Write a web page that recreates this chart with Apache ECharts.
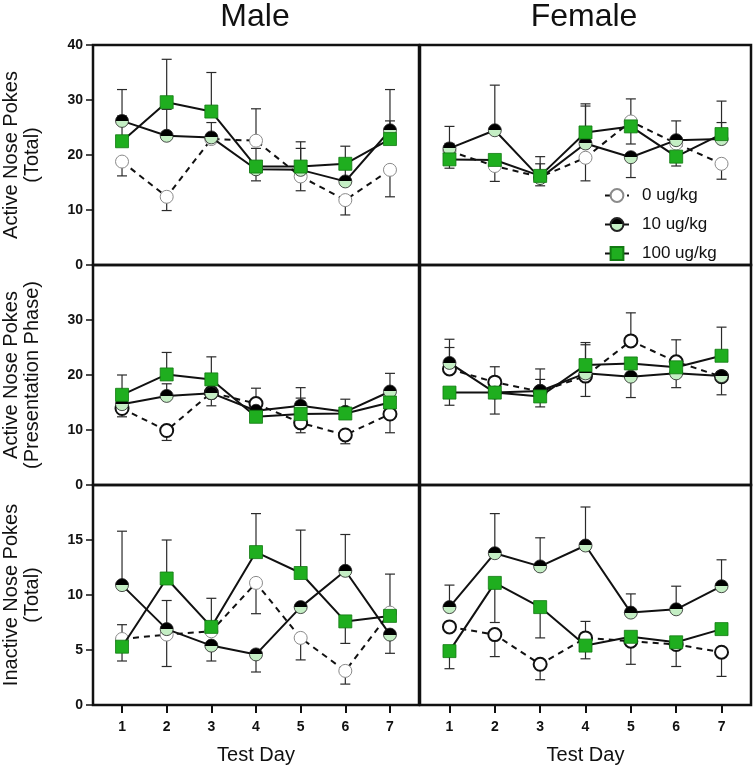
<!DOCTYPE html>
<html>
<head>
<meta charset="utf-8">
<script src="https://cdn.jsdelivr.net/npm/echarts@6/dist/echarts.min.js"></script>
<style>
  html, body { margin: 0; padding: 0; background: #fff; }
  #chart { width: 755px; height: 770px; }
</style>
</head>
<body>
<div id="chart"></div>
<script>
// ---------- DATA ----------
const days = [1, 2, 3, 4, 5, 6, 7];
const doses = ['0 ug/kg', '10 ug/kg', '100 ug/kg'];
const sexTitles = ['Male', 'Female'];
const rowTitles = ['Active Nose Pokes\n(Total)', 'Active Nose Pokes\n(Presentation Phase)', 'Inactive Nose Pokes\n(Total)'];
const xTitle = 'Test Day';
const rowMax = [40, 40, 20];
const rowStep = [10, 10, 5];

// Male – Active Nose Pokes (Total)
const maleTotal0 = [18.8, 12.4, 22.9, 22.6, 16.1, 11.8, 17.3];
const maleTotal0Cap = [16.2, 9.9, null, 28.4, 13.5, 9.1, 12.4];
const maleTotal10 = [26.2, 23.5, 23.2, 17.4, 17.3, 15.2, 24.5];
const maleTotal10Cap = [31.9, 28.3, 25.9, 15.3, 21.2, 17.7, 31.9];
const maleTotal100 = [22.5, 29.6, 27.9, 17.9, 17.9, 18.4, 22.9];
const maleTotal100Cap = [27.1, 37.4, 35.0, 21.2, 22.4, 21.6, 26.2];

// Female – Active Nose Pokes (Total)
const femaleTotal0 = [20.7, 18.0, 16.0, 19.5, 26.1, 22.1, 18.4];
const femaleTotal0Cap = [22.1, 15.2, 18.4, 15.3, 22.0, null, 15.6];
const femaleTotal10 = [21.2, 24.5, 15.8, 22.1, 19.6, 22.7, 22.9];
const femaleTotal10Cap = [25.2, 32.7, 14.4, 28.9, 15.9, 26.2, 25.9];
const femaleTotal100 = [19.2, 19.1, 16.2, 24.1, 25.2, 19.7, 23.8];
const femaleTotal100Cap = [17.6, null, 19.7, 29.3, 30.2, 18.0, 29.8];

// Male – Active Nose Pokes (Presentation Phase)
const malePres0 = [13.9, 9.9, 16.8, 14.8, 11.3, 9.1, 12.9];
const malePres0Cap = [12.4, 8.1, 14.4, 17.6, 9.5, 7.5, 9.5];
const malePres10 = [14.7, 16.2, 16.7, 13.5, 14.4, 13.3, 17.0];
const malePres10Cap = [null, 18.4, null, null, 17.7, 15.6, 20.3];
const malePres100 = [16.4, 20.1, 19.2, 12.4, 12.9, 13.0, 15.0];
const malePres100Cap = [20.0, 24.1, 23.3, null, 15.8, null, null];

// Female – Active Nose Pokes (Presentation Phase)
const femalePres0 = [21.1, 18.7, 17.0, 19.8, 26.2, 22.4, 19.7];
const femalePres0Cap = [25.0, 21.5, 19.2, 16.1, 31.3, 26.4, 16.4];
const femalePres10 = [22.2, 16.8, 17.1, 20.3, 19.7, 20.3, 19.8];
const femalePres10Cap = [26.5, 12.9, 21.1, 25.5, 15.9, 17.7, null];
const femalePres100 = [16.8, 16.8, 16.1, 21.8, 22.1, 21.4, 23.5];
const femalePres100Cap = [14.5, null, 14.2, 25.9, null, null, 28.7];

// Male – Inactive Nose Pokes (Total)
const maleInact0 = [6.0, 6.4, 6.7, 11.1, 6.1, 3.1, 8.4];
const maleInact0Cap = [7.3, 3.5, null, 8.3, 4.1, 1.9, null];
const maleInact10 = [10.9, 6.9, 5.4, 4.6, 8.9, 12.2, 6.4];
const maleInact10Cap = [15.8, 9.5, 4.0, 3.0, null, 15.5, 4.7];
const maleInact100 = [5.3, 11.5, 7.1, 13.9, 12.0, 7.6, 8.1];
const maleInact100Cap = [4.0, 15.0, 9.7, 17.4, 15.9, 5.6, 11.9];

// Female – Inactive Nose Pokes (Total)
const femaleInact0 = [7.1, 6.4, 3.7, 6.1, 5.8, 5.5, 4.8];
const femaleInact0Cap = [null, 4.4, 2.3, 7.6, 3.7, 3.5, 2.6];
const femaleInact10 = [8.9, 13.8, 12.6, 14.5, 8.4, 8.7, 10.8];
const femaleInact10Cap = [10.9, 17.4, 15.2, 18.0, 10.1, 10.8, 13.2];
const femaleInact100 = [4.9, 11.1, 8.9, 5.4, 6.2, 5.7, 6.9];
const femaleInact100Cap = [3.3, 7.5, 6.1, 4.2, null, null, null];

// ---------- BUILD ----------
const panels = [
  { row: 0, col: 0, m: [maleTotal0, maleTotal10, maleTotal100], c: [maleTotal0Cap, maleTotal10Cap, maleTotal100Cap], thinOpen: true },
  { row: 0, col: 1, m: [femaleTotal0, femaleTotal10, femaleTotal100], c: [femaleTotal0Cap, femaleTotal10Cap, femaleTotal100Cap], thinOpen: true },
  { row: 1, col: 0, m: [malePres0, malePres10, malePres100], c: [malePres0Cap, malePres10Cap, malePres100Cap], thinOpen: false },
  { row: 1, col: 1, m: [femalePres0, femalePres10, femalePres100], c: [femalePres0Cap, femalePres10Cap, femalePres100Cap], thinOpen: false },
  { row: 2, col: 0, m: [maleInact0, maleInact10, maleInact100], c: [maleInact0Cap, maleInact10Cap, maleInact100Cap], thinOpen: true },
  { row: 2, col: 1, m: [femaleInact0, femaleInact10, femaleInact100], c: [femaleInact0Cap, femaleInact10Cap, femaleInact100Cap], thinOpen: false }
];

const FONT = "'Liberation Sans', Arial, Helvetica, sans-serif";
const colLeft = [91, 420];
const colWidth = [328, 331];
const rowTop = [45, 265, 485];
const rowH = 220;

const halfFill = {
  type: 'linear', x: 0, y: 0, x2: 0, y2: 1,
  colorStops: [
    { offset: 0, color: '#000' }, { offset: 0.5, color: '#000' },
    { offset: 0.5, color: '#c4eec4' }, { offset: 1, color: '#c4eec4' }
  ]
};

const grids = [], xAxes = [], yAxes = [], series = [];

function errRender(params, api) {
  const x = api.value(0), m = api.value(1), c = api.value(2);
  const a = api.coord([x, m]);
  const b = api.coord([x, c]);
  const st = { stroke: '#2a2a2a', lineWidth: 1.2 };
  return {
    type: 'group',
    children: [
      { type: 'line', shape: { x1: a[0], y1: a[1], x2: b[0], y2: b[1] }, style: st },
      { type: 'line', shape: { x1: b[0] - 5, y1: b[1], x2: b[0] + 5, y2: b[1] }, style: st }
    ]
  };
}

panels.forEach((p, i) => {
  grids.push({
    left: colLeft[p.col], top: rowTop[p.row], width: colWidth[p.col], height: rowH,
    show: true, borderColor: '#111', borderWidth: 2.5, backgroundColor: 'transparent'
  });
  const isBottom = p.row === 2;
  const isLeft = p.col === 0;
  xAxes.push({
    gridIndex: i, type: 'value', min: 0.35, max: 7.65,
    splitLine: { show: false },
    axisLine: { show: false },
    axisTick: isBottom ? { show: true, customValues: days, length: 8, lineStyle: { color: '#111', width: 2 } } : { show: false },
    axisLabel: isBottom ? { show: true, customValues: days, fontSize: 14, fontWeight: 'bold', color: '#111', margin: 15, fontFamily: FONT } : { show: false },
    name: isBottom ? xTitle : '',
    nameLocation: 'middle', nameGap: 40,
    nameTextStyle: { fontSize: 20, color: '#111', fontFamily: FONT }
  });
  yAxes.push({
    gridIndex: i, type: 'value', min: 0, max: rowMax[p.row], interval: rowStep[p.row],
    splitLine: { show: false },
    axisLine: { show: false },
    axisTick: isLeft ? { show: true, length: 7, lineStyle: { color: '#111', width: 1.5 } } : { show: false },
    axisLabel: isLeft ? { show: true, fontSize: 14, fontWeight: 'bold', color: '#111', margin: 10, fontFamily: FONT, showMaxLabel: p.row === 0 } : { show: false },
    name: isLeft ? rowTitles[p.row] : '',
    nameLocation: 'middle', nameGap: 50,
    nameTextStyle: { fontSize: 20, color: '#111', fontFamily: FONT, lineHeight: 21 }
  });

  // error bars
  for (let d = 0; d < 3; d++) {
    const data = [];
    days.forEach((x, k) => { if (p.c[d][k] != null) data.push([x, p.m[d][k], p.c[d][k]]); });
    series.push({
      type: 'custom', xAxisIndex: i, yAxisIndex: i, renderItem: errRender,
      data: data, encode: { x: 0, y: [1, 2] }, z: 1, silent: true
    });
  }
  // lines + markers
  const styles = [
    {
      symbol: 'circle', symbolSize: 13,
      itemStyle: p.thinOpen ? { color: '#fff', borderColor: '#8a8a8a', borderWidth: 1 } : { color: '#fff', borderColor: '#111', borderWidth: 2 },
      lineStyle: { color: '#111', width: 2, type: [6, 5] }
    },
    {
      symbol: 'circle', symbolSize: 13,
      itemStyle: { color: halfFill, borderColor: '#222', borderWidth: 0.8 },
      lineStyle: { color: '#111', width: 2 }
    },
    {
      symbol: 'rect', symbolSize: 13,
      itemStyle: { color: '#1fae1f', borderColor: '#127a12', borderWidth: 0.8 },
      lineStyle: { color: '#111', width: 2 }
    }
  ];
  for (let d = 0; d < 3; d++) {
    series.push(Object.assign({
      type: 'line', name: doses[d], xAxisIndex: i, yAxisIndex: i,
      data: days.map((x, k) => [x, p.m[d][k]]),
      z: 2 + d, showSymbol: true, emphasis: { disabled: true }
    }, styles[d]));
  }
});

const option = {
  animation: false,
  backgroundColor: '#fff',
  grid: grids,
  xAxis: xAxes,
  yAxis: yAxes,
  series: series,
  legend: {
    data: doses, orient: 'vertical', left: 599, top: 182,
    itemWidth: 24, itemHeight: 16, itemGap: 12,
    textStyle: { fontSize: 17, color: '#111', fontFamily: FONT, lineHeight: 16, padding: [0, 0, 0, 8] },
    selectedMode: false
  },
  graphic: [
    { type: 'text', x: 255, y: 17, style: { text: sexTitles[0], font: '32px ' + FONT, fill: '#111', textAlign: 'center', textVerticalAlign: 'middle', align: 'center', verticalAlign: 'middle' } },
    { type: 'text', x: 584, y: 17, style: { text: sexTitles[1], font: '32px ' + FONT, fill: '#111', textAlign: 'center', textVerticalAlign: 'middle', align: 'center', verticalAlign: 'middle' } }
  ]
};

const chart = echarts.init(document.getElementById('chart'), null, { renderer: 'canvas' });
chart.setOption(option);
</script>
</body>
</html>
